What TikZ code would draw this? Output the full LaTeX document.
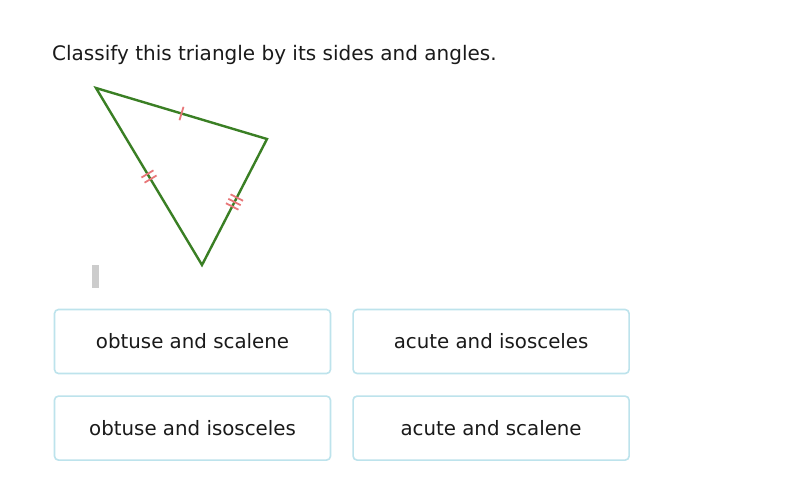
\documentclass[tikz,border=0pt]{standalone}
\usepackage{fontspec}
\setmainfont{DejaVu Sans}
\usetikzlibrary{calc,positioning}
\definecolor{trigreen}{HTML}{3A7F24}
\definecolor{tickred}{HTML}{E8787A}
\definecolor{boxblue}{HTML}{BDE3EC}
\definecolor{textgrey}{HTML}{1A1A1A}

\tikzset{
  side/.style={draw=trigreen, line width=2.4pt, line join=miter},
  tickmark/.style={draw=tickred, line width=1.8pt},
  choice/.style={draw=boxblue, line width=1.6pt, rounded corners=4pt,
    minimum width=276pt, minimum height=64pt, inner sep=0pt,
    text=textgrey, font=\fontsize{19.8}{23}\selectfont},
}

\begin{document}
\begin{tikzpicture}[x=1pt,y=-1pt, node distance=21pt]
    \fill[white] (0,0) rectangle (789,488);
    \useasboundingbox (0,0) rectangle (789,488);

    \node[anchor=base west, inner sep=0pt, text=textgrey, font=\fontsize{20}{23}\selectfont] (question) at (52,60) {Classify this triangle by its sides and angles.};

    % triangle
    \coordinate (A) at (96,88);
    \coordinate (B) at (267,139);
    \coordinate (C) at (202,265);
    \draw[side] (A) -- (B) -- (C) -- cycle;

    % tick marks
    \coordinate (mAB) at ($(A)!0.5!(B)$);
    \coordinate (mAC) at ($(A)!0.5!(C)$);
    \coordinate (mBC) at ($(B)!0.5!(C)$);
    \draw[tickmark] ($(mAB)!7pt!90:(B)$) -- ($(mAB)!7pt!-90:(B)$);
    \foreach \o in {-3,3}
        \draw[tickmark] ($(mAC)!\o pt!(C)!7pt!90:(C)$) -- ($(mAC)!\o pt!(C)!7pt!-90:(C)$);
    \foreach \o in {-5,0,5}
        \draw[tickmark] ($(mBC)!\o pt!(C)!7pt!90:(C)$) -- ($(mBC)!\o pt!(C)!7pt!-90:(C)$);

    % cursor
    \fill[gray!40] (92,265) rectangle (99,288);

    % answer choices
    \node[choice] (obtscal) at (192.5,341.5) {obtuse and scalene};
    \node[choice, right=of obtscal] (acuiso) {acute and isosceles};
    \node[choice, below=of obtscal] (obtiso) {obtuse and isosceles};
    \node[choice, below=of acuiso] (acuscal) {acute and scalene};
\end{tikzpicture}
\end{document}
